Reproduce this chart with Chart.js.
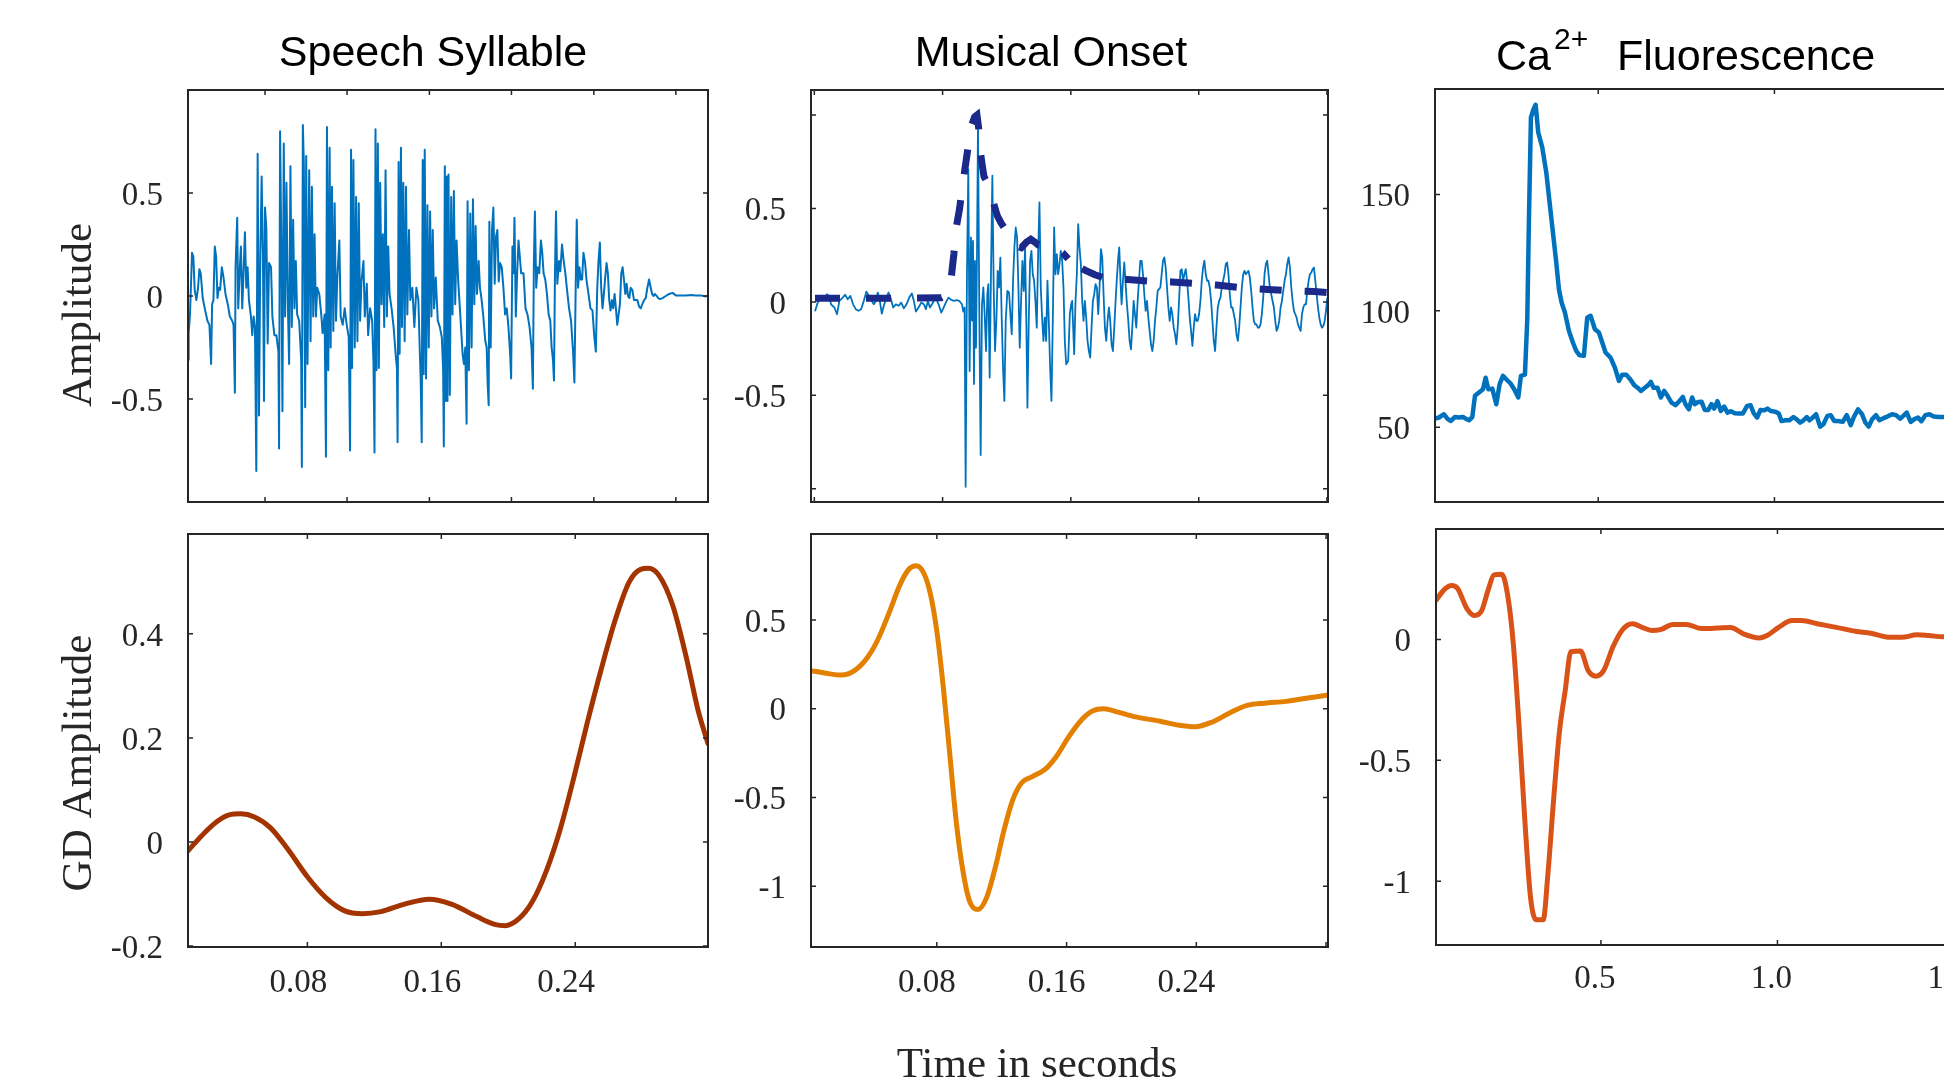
<!DOCTYPE html>
<html>
<head>
<meta charset="utf-8">
<title>Speech, music and Ca2+ signals with group-delay traces</title>
<script src="https://cdn.jsdelivr.net/npm/chart.js@4.4.1/dist/chart.umd.min.js"></script>
<style>
    html, body { margin: 0; padding: 0; background: #ffffff; overflow: hidden; }
    #figure { position: relative; width: 1944px; height: 1088px; overflow: hidden; background: #ffffff; }
    #figure canvas { position: absolute; }
</style>
</head>
<body>
<div id="figure"></div>
<script>
// ---- data ----
// top row: raw signals, x in sample index (the top axes carry no tick labels)
const speechTrace = [[8,-0.31],[10,-0.18],[14,-0.09],[20,0.21],[24,0.19],[28,0.03],[33,-0.02],[38,0.04],[42,0.13],[46,0.11],[52,-0.01],[58,-0.06],[66,-0.12],[72,-0.14],[77,-0.33],[80,-0.04],[84,-0.02],[88,0.24],[92,0.19],[96,-0.01],[100,0.04],[104,0.03],[109,0.14],[114,0.09],[120,0.01],[128,-0.05],[133,-0.10],[140,-0.12],[144,-0.14],[148,-0.47],[150,0.14],[153,0.29],[155,0.38],[158,-0.06],[162,0.11],[166,0.24],[170,-0.06],[174,0.12],[178,0.31],[182,0.04],[186,0.14],[190,-0.02],[196,-0.10],[200,-0.19],[204,-0.10],[208,-0.15],[212,-0.85],[216,0.69],[220,-0.58],[224,0.20],[228,0.58],[232,0.17],[235,-0.51],[238,0.43],[242,0.33],[246,-0.23],[250,0.16],[256,0.14],[260,-0.10],[266,-0.19],[272,-0.19],[278,-0.27],[280,-0.74],[283,0.80],[287,0.20],[290,-0.56],[294,0.74],[298,-0.10],[302,0.55],[306,-0.02],[310,-0.33],[314,0.63],[318,-0.15],[322,0.37],[326,-0.06],[330,0.17],[334,-0.09],[340,-0.12],[346,-0.31],[348,-0.83],[351,0.83],[354,0.64],[358,-0.54],[361,0.68],[365,-0.33],[370,0.61],[374,-0.22],[378,0.53],[382,-0.10],[386,0.30],[390,-0.10],[394,0.04],[400,0.01],[406,-0.09],[410,-0.18],[416,-0.09],[420,-0.78],[423,0.82],[427,-0.36],[431,0.72],[434,-0.25],[438,0.53],[442,-0.17],[446,0.45],[450,-0.12],[454,0.09],[460,0.27],[464,-0.10],[470,-0.14],[476,-0.06],[482,-0.14],[488,-0.20],[492,-0.75],[495,0.71],[498,-0.35],[502,0.66],[506,-0.25],[510,0.48],[514,-0.22],[518,0.45],[522,-0.12],[526,0.07],[532,0.17],[536,-0.10],[542,0.06],[546,-0.19],[552,-0.06],[558,-0.12],[562,-0.33],[565,-0.76],[568,0.81],[571,-0.36],[575,0.74],[578,-0.35],[582,0.55],[586,-0.04],[590,0.30],[594,-0.15],[598,0.61],[602,-0.10],[606,0.24],[610,0.01],[616,-0.06],[622,-0.15],[628,-0.28],[632,-0.35],[634,-0.71],[637,0.65],[640,-0.28],[644,0.72],[647,-0.15],[651,0.55],[655,-0.22],[659,0.53],[663,-0.09],[668,0.32],[672,-0.02],[678,0.04],[684,-0.15],[690,0.04],[696,-0.02],[700,-0.25],[703,-0.41],[706,-0.71],[709,0.66],[712,-0.38],[715,0.71],[719,-0.40],[723,0.44],[727,-0.25],[731,0.41],[735,-0.10],[739,0.32],[743,-0.06],[748,0.09],[754,-0.12],[760,-0.15],[766,-0.20],[770,-0.36],[772,-0.73],[775,0.63],[778,-0.51],[781,0.58],[783,-0.51],[786,0.59],[790,-0.48],[794,0.48],[798,-0.09],[802,0.51],[806,-0.04],[810,0.27],[815,0.07],[820,-0.06],[824,-0.17],[828,-0.28],[832,-0.33],[836,-0.25],[840,-0.62],[843,0.46],[847,-0.36],[851,0.40],[855,-0.25],[859,0.47],[863,-0.04],[867,0.34],[871,0.01],[876,0.17],[880,0.04],[885,-0.02],[890,-0.10],[896,-0.22],[900,-0.25],[903,-0.43],[906,-0.53],[908,0.36],[912,-0.25],[916,0.32],[920,0.43],[924,0.06],[928,0.29],[932,0.32],[936,0.07],[940,0.16],[945,0.14],[950,0.04],[955,-0.09],[960,-0.06],[965,-0.15],[970,-0.28],[973,-0.40],[977,0.24],[980,0.11],[983,0.38],[987,-0.10],[991,0.11],[995,0.27],[999,0.19],[1003,0.11],[1010,0.11],[1016,-0.06],[1022,-0.09],[1028,-0.15],[1034,-0.25],[1038,-0.45],[1041,0.16],[1044,0.41],[1048,0.04],[1052,0.14],[1057,0.11],[1062,0.27],[1066,0.21],[1070,0.11],[1075,0.08],[1080,0.01],[1085,-0.09],[1090,-0.12],[1094,-0.25],[1098,-0.31],[1101,-0.41],[1104,0.11],[1107,0.41],[1111,0.06],[1116,0.17],[1120,0.12],[1125,0.25],[1130,0.17],[1135,0.11],[1140,0.03],[1146,-0.06],[1152,-0.12],[1158,-0.27],[1162,-0.42],[1166,0.06],[1169,0.37],[1173,0.04],[1177,0.14],[1181,0.08],[1185,0.08],[1189,0.21],[1194,0.16],[1198,0.08],[1204,0.01],[1210,-0.06],[1216,-0.07],[1221,-0.19],[1226,-0.27],[1230,0.03],[1234,0.17],[1238,0.26],[1242,0.04],[1246,-0.06],[1250,0.01],[1254,0.09],[1258,0.16],[1262,0.11],[1266,-0.02],[1270,-0.07],[1274,-0.02],[1278,-0.06],[1282,0.01],[1286,-0.06],[1290,-0.14],[1294,-0.09],[1298,-0.04],[1302,0.11],[1306,0.14],[1310,0.08],[1314,0.01],[1318,0.06],[1322,0.00],[1326,-0.01],[1330,0.04],[1335,0.03],[1340,-0.02],[1345,-0.02],[1350,-0.02],[1355,-0.05],[1360,-0.06],[1365,-0.04],[1370,-0.02],[1375,-0.01],[1380,0.04],[1385,0.08],[1390,0.04],[1394,0.01],[1398,0.00],[1402,0.01],[1408,0.00],[1412,-0.01],[1418,-0.015],[1425,-0.01],[1435,0.00],[1445,0.01],[1455,0.015],[1465,0.003],[1480,0.002],[1495,0.002],[1510,0.005],[1525,0.002],[1540,0.003],[1555,-0.002],[1561,0.002]];

const onsetTrace = [[22,-0.05],[30,-0.004],[40,0.032],[50,0.023],[58,0.041],[64,0.032],[70,-0.013],[80,-0.030],[88,-0.066],[95,0.005],[105,0.023],[112,0.038],[120,0.014],[128,0.032],[136,-0.013],[144,-0.039],[152,-0.048],[160,-0.039],[168,0.005],[176,0.055],[184,0.032],[192,0.005],[198,-0.013],[204,0.005],[210,0.05],[216,0.005],[222,-0.063],[228,-0.021],[236,0.023],[242,0.05],[248,0.023],[256,-0.03],[264,-0.013],[272,-0.021],[280,-0.004],[288,-0.034],[296,-0.013],[304,0.023],[312,0.045],[318,0.005],[324,-0.052],[332,-0.030],[340,-0.004],[348,-0.013],[354,-0.039],[360,0.005],[366,-0.030],[372,-0.013],[378,0.005],[384,0.020],[392,-0.013],[400,-0.057],[408,-0.027],[416,0.005],[422,0.023],[430,0.011],[438,0.005],[446,0.009],[454,0.005],[462,-0.013],[466,-0.052],[470,-0.030],[473,-0.99],[477,0.148],[481,0.71],[485,-0.37],[489,0.345],[492,-0.10],[495,0.327],[498,-0.44],[501,0.22],[504,-0.245],[507,0.255],[510,0.95],[514,-0.066],[518,-0.82],[522,-0.013],[526,0.077],[530,-0.066],[534,-0.263],[538,0.041],[541,0.095],[545,-0.405],[549,0.166],[553,0.675],[557,0.077],[561,-0.263],[565,-0.102],[569,0.166],[573,0.077],[577,0.237],[581,-0.084],[585,-0.352],[589,-0.53],[593,-0.102],[598,0.059],[603,0.05],[607,-0.066],[611,-0.173],[615,0.113],[619,0.291],[623,0.398],[627,0.345],[631,0.077],[635,-0.245],[639,0.005],[643,0.22],[647,0.059],[651,0.291],[655,-0.138],[658,-0.566],[662,-0.102],[666,0.22],[670,0.273],[674,0.148],[678,0.113],[682,0.005],[686,-0.138],[690,0.255],[694,0.532],[698,0.077],[702,-0.084],[706,-0.209],[710,-0.084],[714,-0.209],[718,0.113],[722,-0.102],[726,-0.352],[730,-0.53],[734,-0.102],[738,0.398],[742,0.148],[746,0.255],[750,0.148],[754,0.202],[758,0.273],[762,0.22],[766,0.077],[770,-0.209],[774,-0.334],[780,-0.316],[785,-0.066],[789,-0.013],[792,0.005],[798,-0.28],[802,0.005],[806,0.148],[810,0.416],[814,0.291],[818,0.202],[822,0.005],[826,-0.102],[830,0.005],[834,-0.084],[838,-0.209],[842,-0.263],[846,-0.298],[850,-0.138],[854,0.005],[858,0.041],[862,0.095],[866,0.077],[870,-0.066],[874,0.077],[878,0.282],[882,0.238],[886,0.041],[890,-0.138],[894,-0.209],[898,-0.102],[902,-0.030],[906,-0.102],[910,-0.227],[914,-0.263],[918,-0.138],[922,0.005],[926,0.130],[930,0.238],[933,0.291],[937,0.095],[940,-0.013],[944,0.113],[948,0.211],[952,0.095],[956,-0.013],[960,-0.102],[964,-0.209],[968,-0.254],[972,-0.138],[976,0.005],[980,-0.066],[984,-0.138],[988,0.005],[992,0.113],[996,0.220],[1000,0.220],[1004,0.148],[1008,0.041],[1012,-0.048],[1016,0.005],[1020,-0.084],[1024,-0.155],[1028,-0.227],[1032,-0.263],[1036,-0.209],[1040,-0.102],[1044,-0.030],[1048,0.059],[1052,0.068],[1056,0.077],[1060,0.148],[1064,0.220],[1068,0.238],[1072,0.184],[1076,0.077],[1080,-0.030],[1084,-0.102],[1088,-0.030],[1092,-0.066],[1096,-0.138],[1100,-0.173],[1104,-0.227],[1108,-0.138],[1112,0.005],[1116,0.166],[1120,0.175],[1124,0.113],[1128,0.148],[1132,0.175],[1136,0.113],[1140,0.023],[1144,-0.084],[1148,-0.155],[1152,-0.236],[1156,-0.138],[1160,-0.066],[1164,-0.102],[1168,-0.102],[1172,-0.066],[1176,0.005],[1180,0.113],[1184,0.184],[1188,0.220],[1192,0.148],[1196,0.113],[1200,0.113],[1204,0.077],[1208,0.005],[1212,-0.102],[1216,-0.209],[1220,-0.263],[1224,-0.138],[1228,-0.030],[1232,0.005],[1236,0.023],[1240,0.077],[1244,0.113],[1248,0.148],[1252,0.202],[1256,0.211],[1260,0.148],[1264,0.041],[1268,-0.030],[1272,-0.030],[1276,-0.066],[1280,-0.102],[1284,-0.173],[1288,-0.209],[1292,-0.138],[1296,-0.030],[1300,0.077],[1304,0.148],[1308,0.166],[1312,0.148],[1316,0.157],[1320,0.166],[1324,0.130],[1328,0.059],[1332,-0.030],[1336,-0.102],[1340,-0.120],[1344,-0.120],[1348,-0.138],[1352,-0.138],[1356,-0.120],[1360,-0.066],[1364,0.023],[1368,0.148],[1372,0.202],[1376,0.220],[1380,0.148],[1384,0.077],[1388,0.041],[1392,0.005],[1396,-0.030],[1400,-0.102],[1404,-0.155],[1408,-0.138],[1412,-0.102],[1416,-0.030],[1420,0.005],[1424,0.059],[1428,0.113],[1432,0.148],[1436,0.202],[1440,0.238],[1444,0.184],[1448,0.077],[1452,0.005],[1456,-0.048],[1460,-0.066],[1464,-0.084],[1468,-0.120],[1472,-0.138],[1476,-0.155],[1480,-0.066],[1484,-0.030],[1488,-0.013],[1492,-0.013],[1496,0.059],[1500,0.113],[1504,0.148],[1508,0.157],[1512,0.175],[1516,0.184],[1520,0.113],[1524,0.041],[1528,-0.030],[1532,-0.084],[1536,-0.120],[1540,-0.138],[1544,-0.129],[1548,-0.102],[1552,-0.048],[1556,0.023]];

const onsetEnvelope = [[22,0.02],[100,0.02],[200,0.02],[300,0.02],[400,0.022],[420,0.04],[428,0.10],[433,0.18],[438,0.26],[445,0.40],[455,0.50],[462,0.60],[470,0.70],[478,0.80],[488,0.93],[500,0.99],[507,1.0],[512,0.93],[516,0.82],[522,0.74],[528,0.67],[540,0.63],[550,0.56],[558,0.52],[568,0.46],[580,0.42],[595,0.38],[608,0.33],[625,0.30],[640,0.29],[655,0.32],[668,0.335],[680,0.32],[690,0.305],[710,0.30],[735,0.30],[750,0.28],[765,0.26],[780,0.23],[810,0.19],[830,0.17],[860,0.145],[890,0.127],[958,0.12],[1025,0.11],[1090,0.107],[1160,0.098],[1225,0.09],[1292,0.077],[1365,0.068],[1435,0.06],[1518,0.055],[1555,0.05]];
// the tail of the envelope is drawn with a tighter dash, as in the figure
const envelopeTailStart = 780;

const calciumTrace = [[8,53.7],[20,54.2],[35,55.6],[45,53.7],[55,52.7],[68,54.4],[80,54.2],[92,54.4],[100,53.7],[110,53.0],[120,54.4],[128,63.5],[140,64.9],[152,66.3],[160,71.3],[168,66.3],[180,66.6],[192,59.9],[202,68.5],[212,72.1],[222,70.6],[235,68.8],[247,66.0],[258,62.8],[266,72.1],[278,72.6],[285,96.4],[290,139.4],[296,183.1],[304,186.7],[310,188.5],[318,176.6],[330,170.2],[342,159.5],[352,146.6],[362,133.7],[372,120.8],[380,109.3],[388,103.6],[398,99.3],[410,91.4],[422,86.4],[432,82.8],[442,80.9],[455,80.7],[465,97.1],[475,97.9],[488,92.1],[500,90.7],[510,86.4],[520,82.1],[535,79.9],[548,75.6],[560,69.9],[570,72.6],[582,72.6],[594,70.6],[606,68.1],[616,67.0],[626,65.6],[638,67.0],[648,68.1],[656,69.5],[664,67.0],[676,67.0],[686,62.8],[696,65.6],[706,63.5],[718,60.6],[730,59.5],[742,61.3],[752,63.0],[760,59.9],[770,57.7],[780,62.8],[788,59.9],[798,60.9],[808,61.0],[818,57.4],[828,57.4],[838,59.9],[846,58.0],[856,61.2],[866,57.0],[876,58.9],[886,56.3],[896,56.9],[908,56.0],[920,55.9],[932,55.9],[945,59.2],[955,59.5],[965,56.0],[975,54.2],[985,57.4],[997,57.3],[1006,58.0],[1016,57.0],[1030,56.7],[1040,55.9],[1048,52.7],[1060,53.0],[1072,53.0],[1084,54.4],[1094,53.4],[1104,52.0],[1114,53.0],[1124,54.4],[1132,53.0],[1140,53.9],[1152,55.6],[1164,50.3],[1174,51.3],[1186,54.9],[1196,55.2],[1206,52.7],[1218,52.7],[1232,52.3],[1244,55.2],[1256,50.9],[1266,54.6],[1278,57.7],[1290,55.6],[1300,52.0],[1310,50.3],[1320,53.4],[1332,55.2],[1342,53.0],[1354,53.9],[1366,54.6],[1380,55.6],[1392,55.2],[1404,53.7],[1414,54.9],[1424,56.3],[1436,52.3],[1446,53.4],[1458,54.2],[1468,52.6],[1480,55.2],[1492,55.6],[1505,54.6],[1520,54.4],[1536,54.4],[1566,54.4]];

// bottom row: group-delay traces, x in seconds
const speechGD = [[0.0087,-0.017],[0.0169,0.012],[0.0251,0.037],[0.0333,0.052],[0.0402,0.054],[0.0484,0.048],[0.0580,0.027],[0.0690,-0.017],[0.0800,-0.067],[0.0910,-0.107],[0.1020,-0.132],[0.1129,-0.138],[0.1239,-0.134],[0.1376,-0.120],[0.1527,-0.110],[0.1664,-0.120],[0.1815,-0.144],[0.1925,-0.159],[0.1980,-0.161],[0.2062,-0.148],[0.2145,-0.114],[0.2227,-0.056],[0.2309,0.023],[0.2392,0.124],[0.2474,0.232],[0.2556,0.333],[0.2639,0.427],[0.2721,0.499],[0.2790,0.524],[0.2836,0.526],[0.2899,0.513],[0.2982,0.455],[0.3064,0.354],[0.3133,0.254],[0.3193,0.189]];

const onsetGD = [[0.0024,0.215],[0.0118,0.200],[0.0211,0.190],[0.0292,0.215],[0.0372,0.289],[0.0439,0.395],[0.0506,0.542],[0.0573,0.700],[0.0626,0.785],[0.0672,0.806],[0.0720,0.764],[0.0760,0.648],[0.0800,0.437],[0.0840,0.120],[0.0880,-0.259],[0.0920,-0.639],[0.0961,-0.914],[0.1001,-1.082],[0.1054,-1.131],[0.1108,-1.061],[0.1161,-0.892],[0.1215,-0.681],[0.1268,-0.513],[0.1322,-0.418],[0.1389,-0.382],[0.1469,-0.340],[0.1536,-0.270],[0.1616,-0.154],[0.1696,-0.059],[0.1763,-0.011],[0.1830,0.000],[0.1910,-0.017],[0.2017,-0.044],[0.2178,-0.070],[0.2285,-0.091],[0.2392,-0.101],[0.2499,-0.074],[0.2606,-0.023],[0.2713,0.019],[0.2820,0.032],[0.2954,0.042],[0.3088,0.061],[0.3203,0.076]];

const calciumGD = [[0.0327,0.161],[0.0556,0.205],[0.0773,0.223],[0.0937,0.212],[0.1209,0.127],[0.1427,0.099],[0.1623,0.119],[0.1808,0.205],[0.1972,0.267],[0.2190,0.270],[0.2353,0.189],[0.2516,-0.012],[0.2680,-0.353],[0.2843,-0.741],[0.3007,-1.067],[0.3170,-1.160],[0.3366,-1.160],[0.3497,-0.974],[0.3660,-0.664],[0.3824,-0.384],[0.3987,-0.214],[0.4150,-0.051],[0.4423,-0.048],[0.4641,-0.129],[0.4858,-0.152],[0.5076,-0.129],[0.5349,-0.028],[0.5621,0.042],[0.5893,0.065],[0.6166,0.050],[0.6438,0.037],[0.6710,0.042],[0.7037,0.062],[0.7418,0.062],[0.7854,0.045],[0.8290,0.047],[0.8671,0.050],[0.9052,0.022],[0.9488,0.006],[0.9706,0.016],[1.0033,0.050],[1.0414,0.078],[1.0686,0.078],[1.1122,0.065],[1.1667,0.050],[1.2211,0.034],[1.2647,0.026],[1.3192,0.009],[1.3519,0.009],[1.3954,0.019],[1.4281,0.016],[1.4695,0.011],[1.5,0.011]];

// ticks (values and their labels; '' = unlabelled tick mark)
const speechSampleTicks = [238, 483, 729, 974, 1220, 1465];
const onsetSampleTicks = [20, 404, 788, 1171, 1555];
const calciumFrameTicks = [498, 1027, 1556];
const ampTicks = [-1, -0.5, 0, 0.5, 1];
const ampTickLabels = ['', '-0.5', '0', '0.5', ''];
const calciumTicks = [50, 100, 150];
const calciumTickLabels = ['50', '100', '150'];
const speechTimeTicks = [0.08, 0.16, 0.24];
const onsetTimeTicks = [0.08, 0.16, 0.24, 0.32];
const timeTickLabels = ['0.08', '0.16', '0.24', ''];
const calciumTimeTicks = [0.5, 1.0, 1.5];
const calciumTimeLabels = ['0.5', '1.0', '1.5'];
const speechGDTicks = [-0.2, 0, 0.2, 0.4];
const speechGDLabels = ['-0.2', '0', '0.2', '0.4'];
const onsetGDTicks = [-1, -0.5, 0, 0.5];
const onsetGDLabels = ['-1', '-0.5', '0', '0.5'];
const calciumGDTicks = [-1, -0.5, 0];
const calciumGDLabels = ['-1', '-0.5', '0'];

// ---- drawing ----
const AXIS_COLOR = '#262626';
const SERIF = "'Liberation Serif', 'Times New Roman', serif";
const SANS = "'Liberation Sans', Arial, sans-serif";

// MATLAB-like box with inward tick marks on all four sides
const axesBox = {
    id: 'axesBox',
    afterDatasetsDraw(chart) {
        const { ctx, chartArea: area, scales } = chart;
        const len = 5;
        ctx.save();
        ctx.strokeStyle = AXIS_COLOR;
        ctx.lineWidth = 1.5;
        ctx.beginPath();
        scales.x.ticks.forEach((tick) => {
            const px = scales.x.getPixelForValue(tick.value);
            if (px < area.left || px > area.right) {
                return;
            }
            ctx.moveTo(px, area.top);
            ctx.lineTo(px, area.top + len);
            ctx.moveTo(px, area.bottom);
            ctx.lineTo(px, area.bottom - len);
        });
        scales.y.ticks.forEach((tick) => {
            const py = scales.y.getPixelForValue(tick.value);
            if (py < area.top || py > area.bottom) {
                return;
            }
            ctx.moveTo(area.left, py);
            ctx.lineTo(area.left + len, py);
            ctx.moveTo(area.right, py);
            ctx.lineTo(area.right - len, py);
        });
        ctx.stroke();
        ctx.lineWidth = 2;
        ctx.strokeRect(area.left, area.top, area.right - area.left, area.bottom - area.top);
        ctx.restore();
    },
};

// titles and axis labels, placed relative to the chart area
const panelText = {
    id: 'panelText',
    afterDraw(chart, args, opts) {
        const { ctx, chartArea: area } = chart;
        (opts.items || []).forEach((item) => {
            ctx.save();
            ctx.font = item.font;
            ctx.fillStyle = item.color || '#000000';
            ctx.textAlign = item.align || 'left';
            ctx.textBaseline = 'alphabetic';
            ctx.translate(area.left + item.dx, area.top + item.dy);
            if (item.rotate) {
                ctx.rotate(item.rotate);
            }
            ctx.fillText(item.text, 0, 0);
            ctx.restore();
        });
    },
};

const figure = document.getElementById('figure');

const toPoints = (pairs) => pairs.map(([x, y]) => ({ x, y }));

const makeAxis = (cfg) => ({
    type: 'linear',
    position: cfg.position,
    min: cfg.min,
    max: cfg.max,
    bounds: 'data',
    grid: { display: false, drawTicks: false, tickLength: 0 },
    border: { display: false },
    ticks: {
        display: cfg.labels !== null,
        font: { family: SERIF, size: 33 },
        color: AXIS_COLOR,
        padding: cfg.padding || 0,
        labelOffset: cfg.labelOffset || 0,
        autoSkip: false,
        maxRotation: 0,
        minRotation: 0,
        callback: (value, index) => (cfg.labels ? (cfg.labels[index] ?? '') : ''),
    },
    afterBuildTicks: (scale) => {
        scale.ticks = cfg.ticks.map((value) => ({ value }));
    },
    afterFit: (scale) => {
        if (cfg.position === 'left') {
            scale.width = cfg.size;
        } else {
            scale.height = cfg.size;
        }
    },
});

const makePanel = ({ box, pad, x, y, datasets, texts }) => {
    const canvas = document.createElement('canvas');
    const width = box.right - box.left + pad.axisW + pad.right;
    const height = box.bottom - box.top + pad.top + pad.axisH;
    canvas.width = width;
    canvas.height = height;
    canvas.style.width = `${width}px`;
    canvas.style.height = `${height}px`;
    canvas.style.left = `${box.left - pad.axisW}px`;
    canvas.style.top = `${box.top - pad.top}px`;
    figure.appendChild(canvas);

    return new Chart(canvas, {
        type: 'line',
        data: { datasets },
        plugins: [axesBox, panelText],
        options: {
            responsive: false,
            animation: false,
            devicePixelRatio: 1,
            events: [],
            layout: { padding: { top: pad.top, right: pad.right, bottom: 0, left: 0 } },
            elements: { point: { radius: 0 } },
            scales: {
                x: makeAxis({ ...x, position: 'bottom', size: pad.axisH }),
                y: makeAxis({ ...y, position: 'left', size: pad.axisW, padding: 25, labelOffset: 3 }),
            },
            plugins: {
                legend: { display: false },
                tooltip: { enabled: false },
                title: { display: false },
                panelText: { items: texts },
            },
        },
    });
};

const line = (pairs, color, width, extra = {}) => ({
    data: toPoints(pairs),
    borderColor: color,
    borderWidth: width,
    pointRadius: 0,
    tension: 0,
    borderJoinStyle: 'round',
    fill: false,
    ...extra,
});

const smooth = { cubicInterpolationMode: 'monotone', borderCapStyle: 'round' };
const titleFont = `43px ${SANS}`;
const labelFont = `43px ${SERIF}`;
const inTail = (ctx) => ctx.p0.parsed.x >= envelopeTailStart;

// Speech Syllable, raw
makePanel({
    box: { left: 188, top: 90, right: 708, bottom: 502 },
    pad: { axisW: 150, right: 30, top: 90, axisH: 50 },
    x: { min: 8, max: 1561, ticks: speechSampleTicks, labels: null },
    y: { min: -1, max: 1, ticks: ampTicks, labels: ampTickLabels },
    datasets: [line(speechTrace, '#0072BD', 2)],
    texts: [
        { text: 'Speech Syllable', font: titleFont, align: 'center', dx: 245, dy: -24 },
        { text: 'Amplitude', font: labelFont, color: AXIS_COLOR, align: 'center', dx: -97, dy: 225, rotate: -Math.PI / 2 },
    ],
});

// Musical Onset, raw with dashed envelope
makePanel({
    box: { left: 811, top: 90, right: 1328, bottom: 502 },
    pad: { axisW: 150, right: 30, top: 90, axisH: 50 },
    x: { min: 10, max: 1558, ticks: onsetSampleTicks, labels: null },
    y: { min: -1.071, max: 1.134, ticks: ampTicks, labels: ampTickLabels },
    datasets: [
        line(onsetEnvelope, '#1B2A8A', 7, {
            borderDash: [25, 26],
            borderJoinStyle: 'miter',
            borderCapStyle: 'butt',
            segment: {
                borderDash: (ctx) => (inTail(ctx) ? [22, 23] : [25, 26]),
                borderDashOffset: (ctx) => (inTail(ctx) ? 28 : 0),
            },
        }),
        line(onsetTrace, '#0072BD', 1.8),
    ],
    texts: [
        { text: 'Musical Onset', font: titleFont, align: 'center', dx: 240, dy: -24 },
    ],
});

// Ca2+ Fluorescence, raw
makePanel({
    box: { left: 1435, top: 89, right: 1954, bottom: 502 },
    pad: { axisW: 150, right: 45, top: 89, axisH: 50 },
    x: { min: 8, max: 1566, ticks: calciumFrameTicks, labels: null },
    y: { min: 17.9, max: 195.3, ticks: calciumTicks, labels: calciumTickLabels },
    datasets: [line(calciumTrace, '#0072BD', 4.5)],
    texts: [
        { text: 'Ca', font: titleFont, dx: 61, dy: -19 },
        { text: '2+', font: `30px ${SANS}`, dx: 119, dy: -40 },
        { text: 'Fluorescence', font: titleFont, dx: 182, dy: -19 },
    ],
});

// Speech Syllable, group delay
makePanel({
    box: { left: 188, top: 534, right: 708, bottom: 947 },
    pad: { axisW: 150, right: 30, top: 50, axisH: 140 },
    x: { min: 0.0087, max: 0.3193, ticks: speechTimeTicks, labels: timeTickLabels, padding: 17, labelOffset: -9 },
    y: { min: -0.202, max: 0.592, ticks: speechGDTicks, labels: speechGDLabels },
    datasets: [line(speechGD, '#A33400', 5, smooth)],
    texts: [
        { text: 'GD Amplitude', font: labelFont, color: AXIS_COLOR, align: 'center', dx: -97, dy: 229, rotate: -Math.PI / 2 },
    ],
});

// Musical Onset, group delay
makePanel({
    box: { left: 811, top: 534, right: 1328, bottom: 947 },
    pad: { axisW: 150, right: 30, top: 50, axisH: 140 },
    x: { min: 0.0024, max: 0.3212, ticks: onsetTimeTicks, labels: timeTickLabels, padding: 17, labelOffset: -10 },
    y: { min: -1.342, max: 0.985, ticks: onsetGDTicks, labels: onsetGDLabels },
    datasets: [line(onsetGD, '#E38000', 5, smooth)],
    texts: [
        { text: 'Time in seconds', font: labelFont, color: AXIS_COLOR, align: 'center', dx: 226, dy: 543 },
    ],
});

// Ca2+ Fluorescence, group delay
makePanel({
    box: { left: 1436, top: 529, right: 1954, bottom: 945 },
    pad: { axisW: 150, right: 45, top: 50, axisH: 142 },
    x: { min: 0.033, max: 1.5, ticks: calciumTimeTicks, labels: calciumTimeLabels, padding: 15, labelOffset: -6 },
    y: { min: -1.264, max: 0.457, ticks: calciumGDTicks, labels: calciumGDLabels },
    datasets: [line(calciumGD, '#D95319', 5, smooth)],
    texts: [],
});
</script>
</body>
</html>
